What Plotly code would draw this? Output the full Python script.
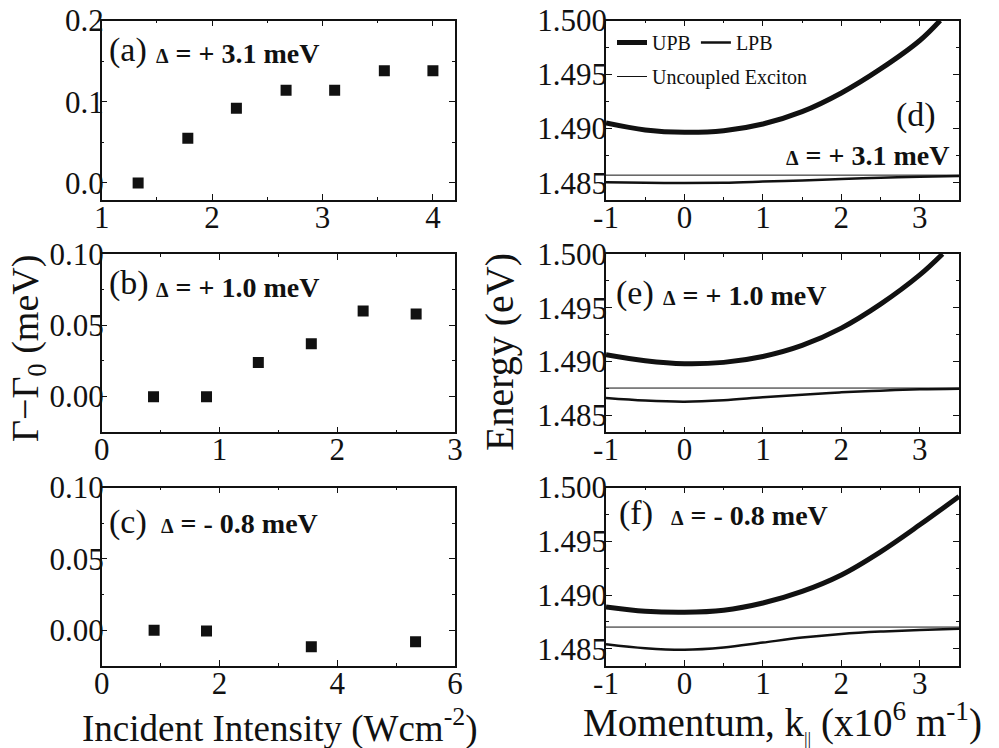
import plotly.graph_objects as go

# ---- Linewidth broadening vs incident intensity (panels a-c) ----
int_a = [1.33, 1.78, 2.22, 2.67, 3.11, 3.56, 4.0]
gam_a = [0.0, 0.055, 0.092, 0.114, 0.114, 0.138, 0.138]

int_b = [0.44, 0.89, 1.33, 1.78, 2.22, 2.67]
gam_b = [0.0, 0.0, 0.024, 0.037, 0.060, 0.058]

int_c = [0.89, 1.78, 3.56, 5.33]
gam_c = [0.0, -0.0005, -0.0116, -0.008]

# ---- Polariton dispersions (panels d-f), k in 1e6 m^-1, energy in eV ----
k_grid = [-1, -0.5, 0, 0.5, 1, 1.5, 2, 2.5, 3, 3.5]

k_upb_d = [-1, -0.5, 0, 0.5, 1, 1.5, 2, 2.5, 3, 3.26]
e_upb_d = [1.49052, 1.48988, 1.48966, 1.48981, 1.49043, 1.49157, 1.4933, 1.49552, 1.49815, 1.5000]
e_lpb_d = [1.48503, 1.48499, 1.48497, 1.48500, 1.48510, 1.48521, 1.48534, 1.48546, 1.48556, 1.48562]

k_upb_e = [-1, -0.5, 0, 0.5, 1, 1.5, 2, 2.5, 3, 3.29]
e_upb_e = [1.49062, 1.49006, 1.48978, 1.48991, 1.49046, 1.49149, 1.4931, 1.49533, 1.49805, 1.5000]
e_lpb_e = [1.48659, 1.48635, 1.48625, 1.48638, 1.48666, 1.4869, 1.48712, 1.48728, 1.4874, 1.48746]

k_upb_f = [-1, -0.5, 0, 0.5, 1, 1.5, 2, 2.5, 3, 3.5]
e_upb_f = [1.4889, 1.4885, 1.4884, 1.48859, 1.48926, 1.49034, 1.49187, 1.49402, 1.49653, 1.49917]
e_lpb_f = [1.48543, 1.48506, 1.48491, 1.48512, 1.48558, 1.48604, 1.48638, 1.4866, 1.48675, 1.48687]

# uncoupled exciton energy for each detuning
exciton_d, exciton_e, exciton_f = 1.4857, 1.48752, 1.48702

detunings = ["+ 3.1", "+ 1.0", "- 0.8"]
k_ticks = [-1, 0, 1, 2, 3]
k_ticktext = ["-1", "0", "1", "2", "3"]

FONT = "'Liberation Serif', 'Times New Roman', Times, serif"
INK = "#111111"

fig = go.Figure()

def marker_trace(x, y, xa, ya):
    return go.Scatter(x=x, y=y, xaxis=xa, yaxis=ya, mode="markers", showlegend=False,
                      marker=dict(symbol="square", size=11, color=INK, line=dict(width=0)))

fig.add_trace(marker_trace(int_a, gam_a, "x", "y"))
fig.add_trace(marker_trace(int_b, gam_b, "x3", "y3"))
fig.add_trace(marker_trace(int_c, gam_c, "x5", "y5"))

def branches(k_up, e_up, e_lp, e_x, xa, ya, with_legend):
    fig.add_trace(go.Scatter(x=k_up, y=e_up, xaxis=xa, yaxis=ya, mode="lines", name="UPB",
                             line=dict(color=INK, width=5, shape="spline"),
                             showlegend=with_legend, legend="legend"))
    fig.add_trace(go.Scatter(x=k_grid, y=e_lp, xaxis=xa, yaxis=ya, mode="lines", name="LPB",
                             line=dict(color=INK, width=2.5, shape="spline"),
                             showlegend=with_legend, legend="legend"))
    fig.add_trace(go.Scatter(x=[k_grid[0], k_grid[-1]], y=[e_x, e_x], xaxis=xa, yaxis=ya,
                             mode="lines", name="Uncoupled Exciton",
                             line=dict(color=INK, width=1),
                             showlegend=with_legend, legend="legend2"))

branches(k_upb_d, e_upb_d, e_lpb_d, exciton_d, "x2", "y2", True)
branches(k_upb_e, e_upb_e, e_lpb_e, exciton_e, "x4", "y4", False)
branches(k_upb_f, e_upb_f, e_lpb_f, exciton_f, "x6", "y6", False)

W, H = 999, 748
def px(v):
    return v / W
def py(v):
    return 1 - v / H

col_dom = [[px(101.7), px(455)], [px(606), px(959)]]
row_dom = [[py(200), py(20.5)], [py(432.3), py(254)], [py(666), py(487.5)]]

def axis_style(minor_dtick, standoff, **kw):
    base = dict(showline=True, linecolor=INK, linewidth=1.5, mirror="ticks",
                ticks="inside", ticklen=6, tickwidth=1.2, tickcolor=INK,
                showgrid=False, zeroline=False, automargin=False,
                ticklabelstandoff=standoff,
                tickfont=dict(family=FONT, size=31, color=INK),
                minor=dict(ticks="inside", ticklen=3, tickwidth=1, tickcolor=INK,
                           dtick=minor_dtick, showgrid=False))
    base.update(kw)
    return base

legend_font = dict(family=FONT, size=20, color=INK)
layout = dict(
    template="none",
    width=W, height=H, margin=dict(l=0, r=0, t=0, b=0, autoexpand=False),
    paper_bgcolor="white", plot_bgcolor="white",
    font=dict(family=FONT, color=INK),
    legend=dict(orientation="h", x=px(612), y=py(23), xanchor="left", yanchor="top",
                font=legend_font, bgcolor="rgba(0,0,0,0)", borderwidth=0),
    legend2=dict(orientation="h", x=px(612), y=py(57), xanchor="left", yanchor="top",
                 font=legend_font, bgcolor="rgba(0,0,0,0)", borderwidth=0),
)

XS, YS = -11, -10
# left column
layout["xaxis"] = axis_style(0.5, XS, domain=col_dom[0], anchor="y", range=[1, 4.2], dtick=1)
layout["yaxis"] = axis_style(0.05, YS, domain=row_dom[0], anchor="x", range=[-0.021, 0.2],
                             dtick=0.1, tickformat=".1f")
layout["xaxis3"] = axis_style(0.5, XS, domain=col_dom[0], anchor="y3", range=[0, 3], dtick=1)
layout["yaxis3"] = axis_style(0.025, YS, domain=row_dom[1], anchor="x3", range=[-0.025, 0.1],
                              dtick=0.05, tickformat=".2f")
layout["xaxis5"] = axis_style(1, XS, domain=col_dom[0], anchor="y5", range=[0, 6], dtick=2)
layout["yaxis5"] = axis_style(0.025, YS, domain=row_dom[2], anchor="x5", range=[-0.025, 0.1],
                              dtick=0.05, tickformat=".2f")
# right column
for i, (xa, ya) in enumerate([("xaxis2", "yaxis2"), ("xaxis4", "yaxis4"), ("xaxis6", "yaxis6")]):
    xn, yn = xa.replace("axis", ""), ya.replace("axis", "")
    layout[xa] = axis_style(0.5, XS, domain=col_dom[1], anchor=yn, range=[-1, 3.5],
                            tickmode="array", tickvals=k_ticks, ticktext=k_ticktext)
    layout[ya] = axis_style(0.0025, -9, domain=row_dom[i], anchor=xn, range=[1.4834, 1.500],
                            dtick=0.005, tickformat=".3f")

fig.update_layout(**layout)

def label(text, x, y, size, xanchor="left", bold=False, **kw):
    fig.add_annotation(text=f"<b>{text}</b>" if bold else text, x=x, y=y, xref="paper", yref="paper",
                       xanchor=xanchor, yanchor="middle", showarrow=False,
                       font=dict(family=FONT, size=size, color=INK), **kw)

def delta(d):
    return f"<span style='font-size:20px'>Δ</span> = {d} meV"

label("(a)", px(107), py(50), 34)
label(delta(detunings[0]), px(154), py(54), 28, bold=True)
label("(b)", px(107), py(283), 34)
label(delta(detunings[1]), px(154), py(287), 28, bold=True)
label("(c)", px(107), py(522), 34)
label(delta(detunings[2]), px(159), py(523), 28, bold=True)

label("(d)", px(894), py(115), 34)
label(delta(detunings[0]), px(951), py(155), 28, xanchor="right", bold=True)
label("(e)", px(614), py(293), 34)
label(delta(detunings[1]), px(661), py(295), 28, bold=True)
label("(f)", px(617), py(513), 34)
label(delta(detunings[2]), px(669), py(515), 28, bold=True)

# axis titles
label("Γ−Γ<sub>0</sub> (meV)", px(28), py(349), 38, xanchor="center", textangle=-90)
label("Energy (eV)", px(499), py(352), 40, xanchor="center", textangle=-90)
label("Incident Intensity (Wcm<sup>-2</sup>)", px(280), py(726), 37, xanchor="center")
label("Momentum, k<sub><span style='font-size:18px'>||</span></sub> (x10<sup>6</sup> m<sup>-1</sup>)",
      px(782), py(722), 39, xanchor="center")

fig.write_html("out.html")
